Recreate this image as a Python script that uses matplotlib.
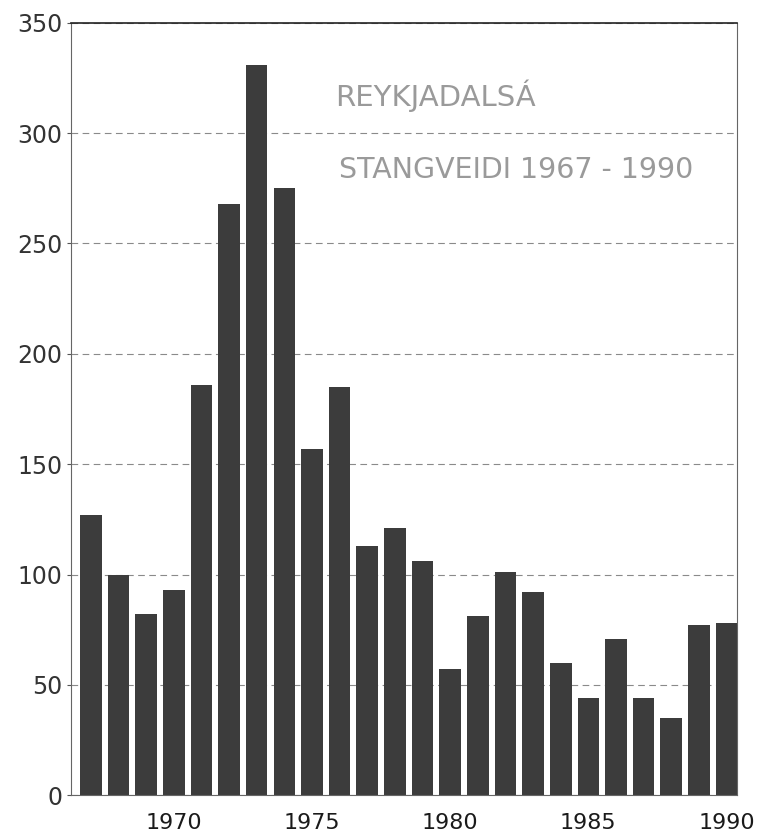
"""Reykjadalsá rod catch (stangveiði) 1967-1990, bar chart recreated
from a scanned figure. Bar heights read off the scan by eye."""

import matplotlib

matplotlib.use("Agg")
import matplotlib.pyplot as plt

# Years and catch per year
YEARS = list(range(1967, 1991))
CATCH = [127, 100, 82, 93, 186, 268, 331, 275, 157, 185,
         113, 121, 106, 57, 81, 101, 92, 60, 44, 71,
         44, 35, 77, 78]

X_TICKS = [1970, 1975, 1980, 1985, 1990]
Y_TICKS = [0, 50, 100, 150, 200, 250, 300, 350]

TITLE_LINE1 = "REYKJADALSÁ"
TITLE_LINE2 = "STANGVEIDI 1967 - 1990"


def main():
    fig = plt.figure(figsize=(7.63, 8.38), dpi=100)
    ax = fig.add_axes([0.093, 0.051, 0.873, 0.922])

    ax.bar(YEARS, CATCH, width=0.78, color="#3c3c3c", edgecolor="none", zorder=2)

    ax.set_xlim(1966.28, 1990.38)
    ax.set_ylim(0, 350)

    ax.set_xticks(X_TICKS)
    ax.set_xticklabels([str(y) for y in X_TICKS], fontsize=16, color="#1a1a1a")
    ax.set_yticks(Y_TICKS)
    ax.set_yticklabels([str(v) for v in Y_TICKS], fontsize=17, color="#333333")
    ax.tick_params(axis="x", length=0, pad=13)
    ax.tick_params(axis="y", length=3, width=0.8, color="#555555", pad=3)

    ax.grid(axis="y", linestyle=(0, (6, 4)), color="#8a8a8a", linewidth=0.8)
    ax.set_axisbelow(True)

    ax.spines["top"].set_color("#222222")
    ax.spines["top"].set_linewidth(1.2)
    for side in ("left", "right", "bottom"):
        ax.spines[side].set_color("#666666")
        ax.spines[side].set_linewidth(0.8)

    # thin, light title lettering inside the plot
    ax.text(0.396, 0.906, TITLE_LINE1, transform=ax.transAxes, fontsize=21,
            color="#9a9a9a", ha="left", va="center")
    ax.text(0.402, 0.809, TITLE_LINE2, transform=ax.transAxes, fontsize=20.5,
            color="#9a9a9a", ha="left", va="center")

    fig.savefig("out.png", dpi=100)
    plt.close(fig)


if __name__ == "__main__":
    main()
